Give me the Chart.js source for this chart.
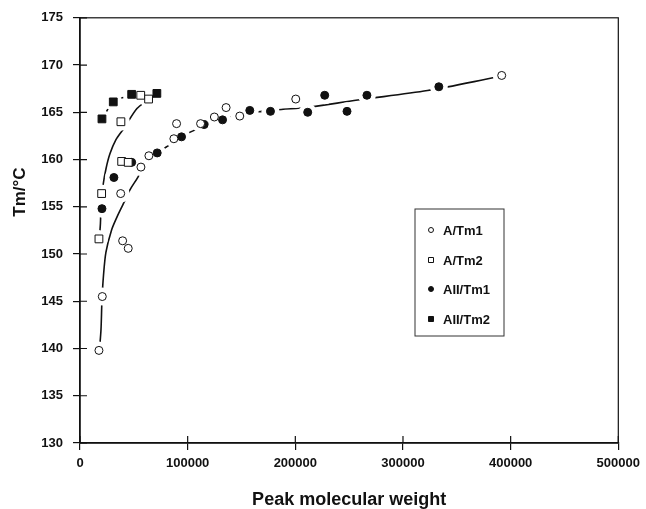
<!DOCTYPE html>
<html>
<head>
<meta charset="utf-8">
<script src="https://cdn.jsdelivr.net/npm/chart.js@4"></script>
<style>
  body { margin: 0; background: #fff; }
  #wrap { width: 646px; height: 509px; }
</style>
</head>
<body>
<div id="wrap"><canvas id="tmChart" width="646" height="509"></canvas></div>
<script>
(function () {
    'use strict';

    // measured points (peak molecular weight, Tm in degC)
    var aTm1X = [17600, 20700, 37800, 39600, 44800, 56600, 64000, 87200, 89700, 112000, 124800, 135700, 148400, 200400, 391700];
    var aTm1Y = [139.8, 145.5, 156.4, 151.4, 150.6, 159.2, 160.4, 162.2, 163.8, 163.8, 164.5, 165.5, 164.6, 166.4, 168.9];
    var aTm2X = [17600, 20100, 38000, 38700, 44800, 56400, 63700];
    var aTm2Y = [151.6, 156.4, 164.0, 159.8, 159.7, 166.8, 166.4];
    var aiiTm1X = [20400, 31500, 48000, 71700, 94300, 115300, 132400, 157700, 176900, 211500, 227300, 248000, 266500, 333300];
    var aiiTm1Y = [154.8, 158.1, 159.7, 160.7, 162.4, 163.7, 164.2, 165.2, 165.1, 165.0, 166.8, 165.1, 166.8, 167.7];
    var aiiTm2X = [20400, 30900, 48000, 71400];
    var aiiTm2Y = [164.3, 166.1, 166.9, 167.0];

    // hand-drawn trend curves
    var fitA1X = [18100, 19500, 20400, 21800, 24100, 29200, 34300, 40200, 46400, 54100, 59400, 69600, 79800, 97400, 108200, 121500, 139100, 154000, 168800, 187100, 210300, 257900, 322800, 385900];
    var fitA1Y = [139.9, 142.0, 145.1, 147.7, 150.2, 152.5, 153.9, 155.3, 156.8, 158.2, 159.5, 160.6, 161.3, 162.6, 163.2, 163.9, 164.5, 164.9, 165.1, 165.3, 165.5, 166.3, 167.3, 168.7];
    var fitA2X = [18100, 19000, 19500, 21300, 24100, 27800, 33400, 40800, 52900, 63100];
    var fitA2Y = [151.8, 153.3, 155.1, 157.2, 159.0, 160.6, 162.1, 163.3, 165.4, 166.3];
    var fitAii2X = [20400, 30600, 47300, 71400];
    var fitAii2Y = [164.3, 166.0, 166.8, 167.0];

    var xTicks = [0, 100000, 200000, 300000, 400000, 500000];
    var yTicks = [130, 135, 140, 145, 150, 155, 160, 165, 170, 175];

    var ink = '#111';
    var font = "'Liberation Sans', Arial, sans-serif";

    function pts(xs, ys) {
        return xs.map(function (x, i) { return { x: x, y: ys[i] }; });
    }

    function marker(label, xs, ys, style, filled) {
        return {
            label: label,
            legend: true,
            data: pts(xs, ys),
            pointStyle: style,
            pointRadius: style === 'rect' ? 5.5 : 4,
            pointBackgroundColor: filled ? ink : '#fff',
            pointBorderColor: ink,
            pointBorderWidth: 1,
            showLine: false,
            order: 1
        };
    }

    // white disc behind each marker, so the curves stop short of the points
    function halo(xs, ys) {
        return {
            data: pts(xs, ys),
            pointRadius: 9,
            pointBackgroundColor: '#fff',
            pointBorderWidth: 0,
            showLine: false,
            order: 2
        };
    }

    function curve(xs, ys) {
        return {
            data: pts(xs, ys),
            showLine: true,
            borderColor: ink,
            borderWidth: 1.6,
            pointRadius: 0,
            tension: 0.3,
            order: 3
        };
    }

    var framePlugin = {
        id: 'frame',
        afterDraw: function (chart) {
            var ctx = chart.ctx;
            var a = chart.chartArea;
            var xs = chart.scales.x;
            var ys = chart.scales.y;
            ctx.save();
            ctx.strokeStyle = ink;
            ctx.lineWidth = 1.2;
            ctx.strokeRect(a.left, a.top, a.right - a.left, a.bottom - a.top);
            ctx.beginPath();
            xTicks.forEach(function (v) {
                var px = xs.getPixelForValue(v);
                ctx.moveTo(px, a.bottom);
                ctx.lineTo(px, a.bottom - 7);
            });
            yTicks.forEach(function (v) {
                var py = ys.getPixelForValue(v);
                ctx.moveTo(a.left, py);
                ctx.lineTo(a.left + 7, py);
            });
            ctx.stroke();

            // y axis title, sits above the middle like the original
            ctx.fillStyle = ink;
            ctx.font = 'bold 17px ' + font;
            ctx.textAlign = 'center';
            ctx.textBaseline = 'middle';
            ctx.translate(20, 192);
            ctx.rotate(-Math.PI / 2);
            ctx.fillText('Tm/°C', 0, 0);
            ctx.restore();

            // legend box
            var lx = 415, ly = 209, lw = 89, lh = 127;
            ctx.save();
            ctx.strokeStyle = '#333';
            ctx.lineWidth = 1;
            ctx.strokeRect(lx, ly, lw, lh);
            ctx.font = 'bold 13px ' + font;
            ctx.textAlign = 'left';
            ctx.textBaseline = 'middle';
            var rowY = [230, 260, 289, 319];
            chart.data.datasets.filter(function (d) { return d.legend; }).forEach(function (d, i) {
                var cx = 431, cy = rowY[i];
                ctx.beginPath();
                if (d.pointStyle === 'rect') {
                    ctx.rect(cx - 2.5, cy - 2.5, 5, 5);
                } else {
                    ctx.arc(cx, cy, 2.5, 0, Math.PI * 2);
                }
                ctx.fillStyle = d.pointBackgroundColor;
                ctx.fill();
                ctx.strokeStyle = ink;
                ctx.stroke();
                ctx.fillStyle = ink;
                ctx.fillText(d.label, 443, cy + 1);
            });
            ctx.restore();
        }
    };

    var ctx = document.getElementById('tmChart').getContext('2d');

    new Chart(ctx, {
        type: 'scatter',
        data: {
            datasets: [
                marker('A/Tm1', aTm1X, aTm1Y, 'circle', false),
                marker('A/Tm2', aTm2X, aTm2Y, 'rect', false),
                marker('AII/Tm1', aiiTm1X, aiiTm1Y, 'circle', true),
                marker('AII/Tm2', aiiTm2X, aiiTm2Y, 'rect', true),
                halo(aTm1X, aTm1Y),
                halo(aTm2X, aTm2Y),
                halo(aiiTm1X, aiiTm1Y),
                halo(aiiTm2X, aiiTm2Y),
                curve(fitA1X, fitA1Y),
                curve(fitA2X, fitA2Y),
                curve(fitAii2X, fitAii2Y)
            ]
        },
        options: {
            responsive: false,
            animation: false,
            layout: { padding: { top: 15, right: 27, left: 0, bottom: 0 } },
            plugins: {
                legend: { display: false },
                tooltip: { enabled: false }
            },
            scales: {
                x: {
                    type: 'linear',
                    min: 0,
                    max: 500000,
                    afterFit: function (s) { s.height = 66; },
                    afterBuildTicks: function (s) {
                        s.ticks = xTicks.map(function (v) { return { value: v }; });
                    },
                    grid: { drawOnChartArea: false, tickLength: 7, color: ink, lineWidth: 1.2 },
                    border: { color: ink, width: 1.5 },
                    ticks: {
                        color: ink,
                        padding: 6,
                        maxRotation: 0,
                        font: { family: font, size: 13, weight: 'bold' },
                        callback: function (v) { return String(v); }
                    },
                    title: {
                        display: true,
                        text: 'Peak molecular weight',
                        color: ink,
                        padding: { top: 0, bottom: 0 },
                        font: { family: font, size: 18, weight: 'bold', lineHeight: 1.0 }
                    }
                },
                y: {
                    type: 'linear',
                    min: 130,
                    max: 175,
                    afterFit: function (s) { s.width = 80; },
                    afterBuildTicks: function (s) {
                        s.ticks = yTicks.map(function (v) { return { value: v }; });
                    },
                    grid: { drawOnChartArea: false, tickLength: 7, color: ink, lineWidth: 1.2 },
                    border: { color: ink, width: 1.5 },
                    ticks: {
                        color: ink,
                        padding: 10,
                        font: { family: font, size: 13, weight: 'bold' }
                    }
                }
            }
        },
        plugins: [framePlugin]
    });
}());
</script>
</body>
</html>
